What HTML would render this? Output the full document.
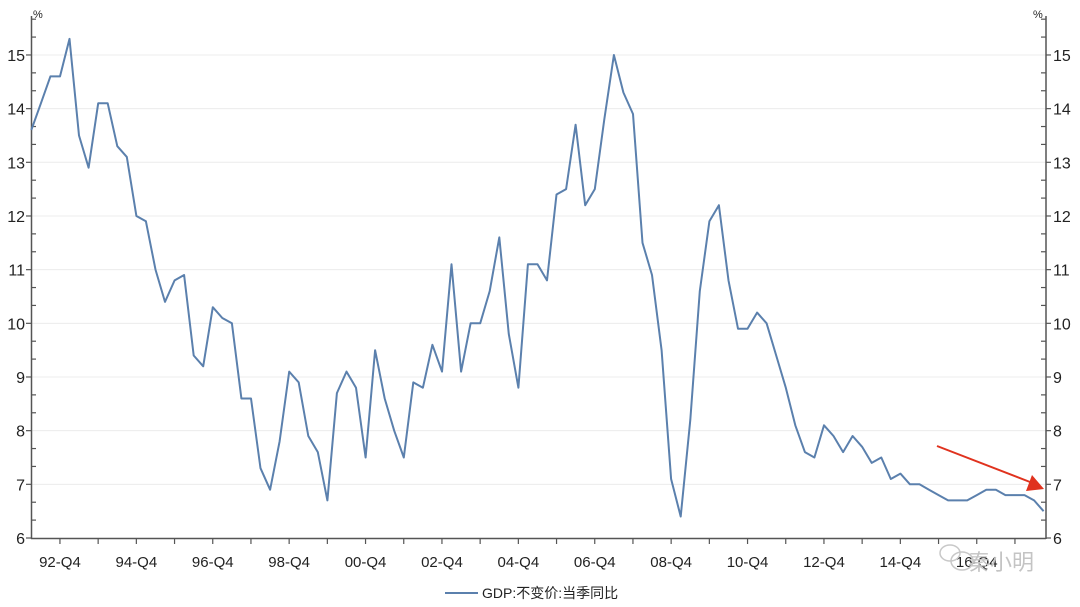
<!DOCTYPE html>
<html><head><meta charset="utf-8"><style>
html,body{margin:0;padding:0;background:#fff}
svg{display:block}
text{font-family:"Liberation Sans","Noto Sans CJK SC",sans-serif;fill:#222}
</style></head><body>
<svg width="1080" height="607" viewBox="0 0 1080 607" xmlns="http://www.w3.org/2000/svg">
<g id="grid" stroke="#ececec" stroke-width="1"></g>
<g id="axes" stroke="#555" stroke-width="1.5" fill="none"></g>
<g id="labels" font-size="16"></g>
<polyline id="line" fill="none" stroke="#5b80ad" stroke-width="2" stroke-linejoin="round"/>
<line x1="937" y1="446" x2="1030" y2="482" stroke="#e0321e" stroke-width="2"/>
<polygon points="1044,489 1026,491 1032,475" fill="#e0321e"/>
<text x="33" y="18" font-size="11">%</text>
<text x="1033" y="18" font-size="11">%</text>
<line x1="445" y1="593" x2="478" y2="593" stroke="#5b80ad" stroke-width="2"/>
<text x="482" y="598" font-size="14">GDP:不变价:当季同比</text>
<g fill="none" stroke="#c8c8c8" stroke-width="1.5">
<ellipse cx="950" cy="553" rx="10" ry="8"/>
<ellipse cx="962" cy="561" rx="11" ry="9"/>
</g>
<text x="968" y="570" font-size="22" style="fill:#c4c4c4">秦小明</text>
</svg>
<script>
const d=[13.6,14.1,14.6,14.6,15.3,13.5,12.9,14.1,14.1,13.3,13.1,12.0,11.9,11.0,10.4,10.8,10.9,9.4,9.2,10.3,10.1,10.0,8.6,8.6,7.3,6.9,7.8,9.1,8.9,7.9,7.6,6.7,8.7,9.1,8.8,7.5,9.5,8.6,8.0,7.5,8.9,8.8,9.6,9.1,11.1,9.1,10.0,10.0,10.6,11.6,9.8,8.8,11.1,11.1,10.8,12.4,12.5,13.7,12.2,12.5,13.8,15.0,14.3,13.9,11.5,10.9,9.5,7.1,6.4,8.2,10.6,11.9,12.2,10.8,9.9,9.9,10.2,10.0,9.4,8.8,8.1,7.6,7.5,8.1,7.9,7.6,7.9,7.7,7.4,7.5,7.1,7.2,7.0,7.0,6.9,6.8,6.7,6.7,6.7,6.8,6.9,6.9,6.8,6.8,6.8,6.7,6.5];
const X=i=>31.3+i*9.55, Y=v=>538-(v-6)*53.67;
document.getElementById('line').setAttribute('points',d.map((v,i)=>X(i).toFixed(1)+','+Y(v).toFixed(1)).join(' '));
const NS='http://www.w3.org/2000/svg';
function el(p,t,a,txt){const e=document.createElementNS(NS,t);for(const k in a)e.setAttribute(k,a[k]);if(txt!=null)e.textContent=txt;document.getElementById(p).appendChild(e);}
for(let v=7;v<=15;v++)el('grid','line',{x1:32,x2:1046,y1:Y(v),y2:Y(v)});
el('axes','line',{x1:31.5,y1:16,x2:31.5,y2:539});
el('axes','line',{x1:1046,y1:16,x2:1046,y2:539});
el('axes','line',{x1:31,y1:538.5,x2:1046,y2:538.5});
for(let k=0;k<=29;k++){const y=538-k*53.67/3;if(y<17)break;const m=k%3==0;
el('axes','line',{x1:m?26:31,x2:m?31:36,y1:y,y2:y,'stroke-width':1.2});
el('axes','line',{x1:m?1046:1041,x2:m?1051:1046,y1:y,y2:y,'stroke-width':1.2});}
for(let v=6;v<=15;v++){el('labels','text',{x:25,y:Y(v)+6,'text-anchor':'end'},v);el('labels','text',{x:1053,y:Y(v)+6},v);}
for(let q=3;q<=106;q+=4){el('axes','line',{x1:X(q),x2:X(q),y1:538,y2:544,'stroke-width':1.2});}
const yrs=['92','94','96','98','00','02','04','06','08','10','12','14','16'];
yrs.forEach((s,j)=>el('labels','text',{x:X(3+8*j),y:567,'text-anchor':'middle','font-size':15},s+'-Q4'));
</script>
</body></html>
